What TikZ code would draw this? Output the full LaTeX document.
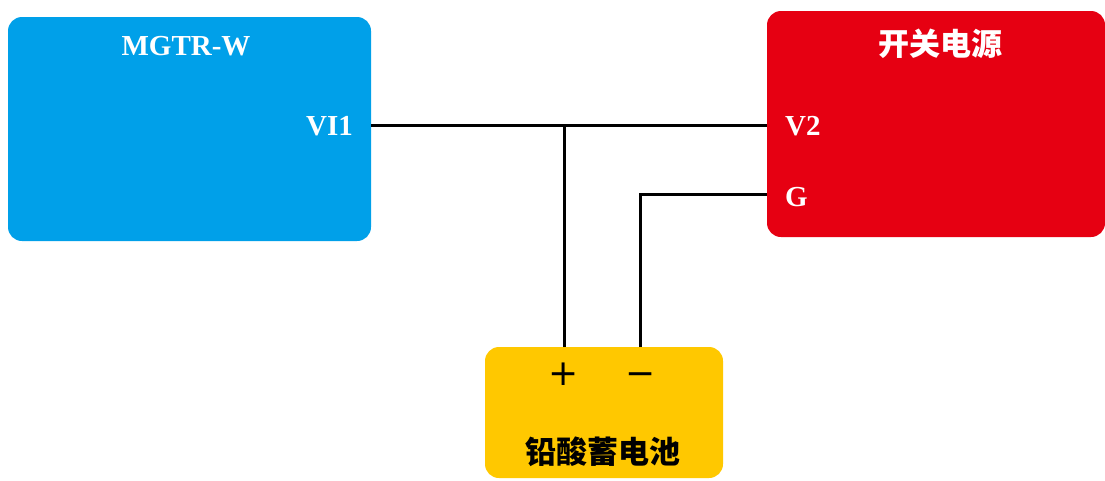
\documentclass[tikz,border=0pt]{standalone}
\usepackage{fontspec}
\setmainfont{Liberation Serif}
\newfontfamily\cjk{Noto Sans CJK SC}
\newfontfamily\symf{DejaVu Sans}
\definecolor{cblue}{RGB}{0,160,233}
\definecolor{cred}{RGB}{230,0,18}
\definecolor{cyellow}{RGB}{255,200,0}
\tikzset{
  box/.style={rectangle, rounded corners=14pt, draw=none, inner sep=0pt},
  wire/.style={line width=3pt, black},
  pinlbl/.style={text=white, font=\fontsize{29}{30}\selectfont\bfseries, inner sep=0pt},
  title/.style={text=white, font=\fontsize{29}{30}\selectfont\bfseries, inner sep=0pt},
  cjktitle/.style={text=white, font=\cjk\bfseries\fontsize{31}{32}\selectfont, inner sep=0pt},
  signlbl/.style={font=\symf\fontsize{36}{36}\selectfont, inner sep=0pt},
}
\begin{document}
\begin{tikzpicture}[x=1pt,y=-1pt]
\useasboundingbox (0,0) rectangle (1105,480);
\node[box, fill=cblue, minimum width=363pt, minimum height=224pt] (blue) at (189.5,129) {};
\node[box, fill=cred, minimum width=338pt, minimum height=226pt] (red) at (936,124) {};
\node[box, fill=cyellow, minimum width=238pt, minimum height=131pt] (yel) at (604,412.5) {};
% labels
\node[title] (tmg) at (186,46) {MGTR-W};
\node[pinlbl, anchor=east] (lvi1) at (353,126) {VI1};
\node[cjktitle] (tsw) at (940,44) {开关电源};
\node[pinlbl, anchor=west] (lv2) at (785,126) {V2};
\node[pinlbl, anchor=west] (lg) at (785,197) {G};
\node[font=\cjk\bfseries\fontsize{31}{32}\selectfont, text=black, inner sep=0pt] (tbat) at (603,452) {铅酸蓄电池};
\node[signlbl] (lplus) at (564,374) {+};
\node[signlbl] (lminus) at (641,379) {−};
% pins
\coordinate (pV1) at (371,125);
\coordinate (pV2) at (767,125);
\coordinate (pG) at (767,194);
\coordinate (pPlus) at (564,347);
\coordinate (pMinus) at (640,347);
\draw[wire] (pV1) -- (pV2);
\draw[wire] (pPlus) -- (pPlus |- pV1);
\draw[wire] (pMinus) |- (pG);
\end{tikzpicture}
\end{document}
